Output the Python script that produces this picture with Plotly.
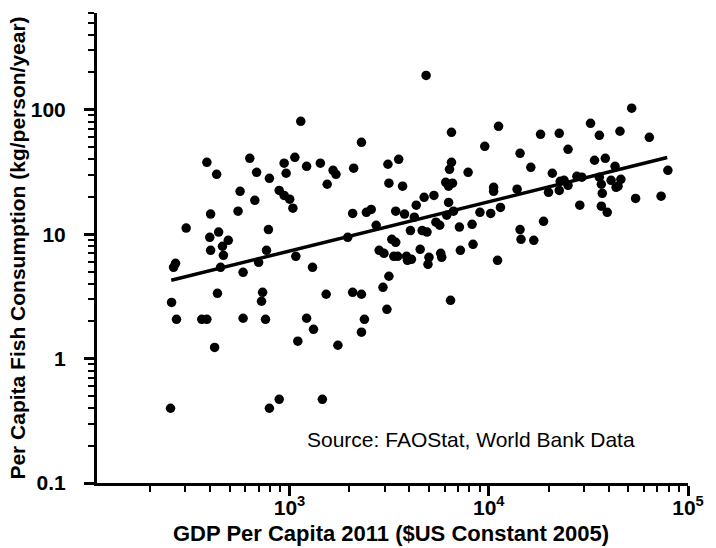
import plotly.graph_objects as go

# GDP per capita 2011 ($US constant 2005)
gdp = [385, 431, 632, 684, 793, 940, 962, 1064, 565, 670, 888, 940, 1002, 1040,
       402, 552, 303, 398, 441, 493, 784, 402, 461, 767,
       4849, 1139, 2297, 6501, 9550, 1219, 1429, 1655, 1711, 2099, 1546, 3119, 3532,
       3155, 3695, 6501, 6353, 7880, 6081, 6577, 6288, 2075, 2432, 2572, 2723, 1960,
       3413, 3780, 4327, 4740, 5308, 6288, 4232, 4046, 4634, 4899, 5430, 5675, 6152,
       6653, 7124, 8250, 9033, 10230, 8340, 3262, 3413, 2818, 4529, 7204, 10580,
       52170, 11200, 32430, 18200, 22590, 35900, 45560, 63970, 25000, 14360, 33960,
       38460, 16260, 43050, 79250, 20850, 10580, 13880, 22850, 23880, 25000, 19950,
       22590, 27690, 29310, 35900, 36730, 41120, 46030, 44560, 43550, 37150, 54580,
       73280, 28640, 36730, 39320, 11450, 18840, 14360, 14520, 16830, 11070,
       466, 262, 268, 451, 585, 700, 435, 256, 733, 724, 271, 363, 385, 585, 758,
       421, 253, 793, 888,
       1076, 1305, 1528, 2075, 2297, 1219, 1320, 1101, 1750, 1462, 2377, 2297, 2946,
       3155, 3083, 2979, 3337, 3491, 3866, 3910, 4093, 5012, 4955, 5741, 5808, 6430]

# Per capita fish consumption (kg/person/year)
fish = [37.8, 30.3, 40.7, 31.4, 28.1, 37.2, 30.9, 41.5, 22.1, 18.7, 22.5, 20.5, 19.1, 16.2,
        14.5, 15.3, 11.2, 9.44, 10.4, 8.93, 10.9, 7.42, 8.00, 7.42,
        189, 80.8, 54.8, 65.9, 50.9, 35.1, 37.2, 32.6, 30.3, 33.9, 25.2, 36.5, 40.0,
        25.7, 24.3, 37.8, 33.2, 31.4, 26.1, 25.7, 24.3, 14.7, 15.0, 15.8, 11.8, 9.44,
        15.3, 14.5, 17.1, 19.8, 20.5, 18.0, 13.7, 10.7, 10.7, 10.4, 12.5, 11.8, 14.2,
        15.3, 11.4, 12.0, 15.0, 14.7, 8.29, 9.10, 8.61, 7.42, 7.56, 7.42, 23.8,
        103, 73.7, 77.9, 63.5, 64.7, 62.4, 67.2, 60.1, 48.1, 44.7, 39.3,
        40.7, 34.5, 35.1, 32.6, 30.9, 22.1, 23.0, 26.6, 27.1, 24.7, 21.7,
        22.5, 29.2, 28.7, 28.7, 25.2, 27.1, 27.6, 24.3, 23.8, 21.3, 19.4,
        20.2, 17.1, 16.8, 15.0, 16.4, 12.7, 10.9, 9.10, 8.93, 6.17,
        6.76, 5.42, 5.83, 5.42, 4.94, 5.94, 3.35, 2.83, 3.41, 2.89, 2.07, 2.07, 2.07, 2.11, 2.07,
        1.23, 0.399, 0.399, 0.471,
        6.64, 5.42, 3.29, 3.41, 3.29, 2.11, 1.72, 1.38, 1.28, 0.471, 2.07, 1.63, 3.74,
        4.59, 2.49, 7.02, 6.64, 6.64, 6.64, 6.17, 6.28, 6.52, 5.73, 7.02, 6.52, 2.94]

# regression line end points
fit_x = [255, 78650]
fit_y = [4.26, 41.3]

x_major = [1000, 10000, 100000]
x_major_text = ["10<sup>3</sup>", "10<sup>4</sup>", "10<sup>5</sup>"]
y_major = [0.1, 1, 10, 100]
y_major_text = ["0.1", "1", "10", "100"]

x_minor = [m * d for d in (100, 1000, 10000) for m in range(2, 10)]
y_minor = [m * d for d in (0.1, 1, 10, 100) for m in range(2, 10) if m * d <= 600]

FONT = "Liberation Sans, Arial, Helvetica, sans-serif"

fig = go.Figure()
fig.add_trace(go.Scatter(x=fit_x, y=fit_y, mode="lines",
                         line=dict(color="black", width=3.5), hoverinfo="skip"))
fig.add_trace(go.Scatter(x=gdp, y=fish, mode="markers",
                         marker=dict(color="black", size=9.5, line=dict(width=0))))

axis_common = dict(
    type="log", showgrid=False, zeroline=False, showline=True,
    linecolor="black", linewidth=3, ticks="outside", tickcolor="black",
    tickwidth=2.5, ticklen=10, tickmode="array", mirror=False,
)

fig.update_xaxes(
    **axis_common,
    range=[2.034, 5.0],
    tickvals=x_major, ticktext=x_major_text,
    tickfont=dict(family=FONT, size=21, color="black", weight="bold"),
    ticklabelstandoff=-6,
    minor=dict(tickmode="array", tickvals=x_minor, ticks="outside",
               ticklen=6, tickwidth=2, tickcolor="black"),
)
fig.update_yaxes(
    **axis_common,
    range=[-1, 2.778],
    tickvals=y_major, ticktext=y_major_text,
    tickfont=dict(family=FONT, size=21, color="black", weight="bold"),
    ticklabelstandoff=14,
    minor=dict(tickmode="array", tickvals=y_minor, ticks="outside",
               ticklen=6, tickwidth=2, tickcolor="black"),
)

fig.add_annotation(text="<b>GDP Per Capita 2011 ($US Constant 2005)</b>",
                   xref="paper", yref="paper", x=0.497, y=-0.108,
                   xanchor="center", yanchor="middle", showarrow=False,
                   font=dict(family=FONT, size=22, color="black"))
fig.add_annotation(text="<b>Per Capita Fish Consumption (kg/person/year)</b>",
                   xref="paper", yref="paper", x=-0.136, y=0.5, textangle=-90,
                   xanchor="center", yanchor="middle", showarrow=False,
                   font=dict(family=FONT, size=21, color="black"))
fig.add_annotation(text="Source: FAOStat, World Bank Data",
                   xref="paper", yref="paper", x=0.632, y=0.093,
                   xanchor="center", yanchor="middle", showarrow=False,
                   font=dict(family=FONT, size=21, color="black"))

fig.update_layout(
    width=716, height=548,
    margin=dict(l=97, r=16, t=13, b=65),
    paper_bgcolor="white", plot_bgcolor="white",
    showlegend=False,
)

fig.write_html("out.html")
